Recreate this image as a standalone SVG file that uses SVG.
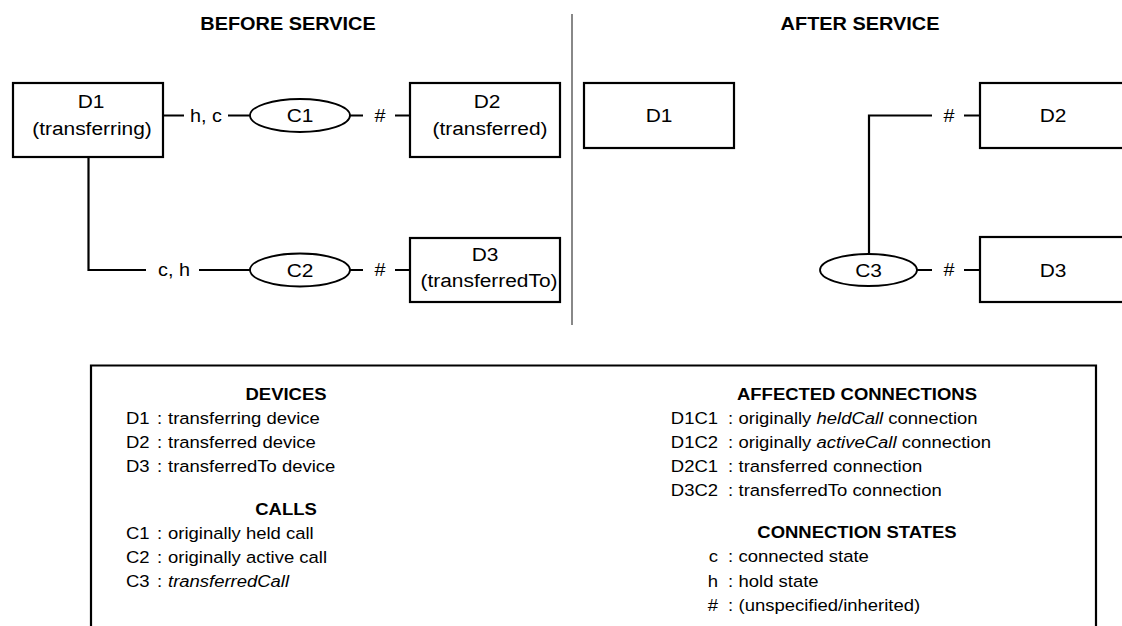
<svg xmlns="http://www.w3.org/2000/svg" width="1122" height="626" viewBox="0 0 1122 626">
<style>
text{font-family:"Liberation Sans",Arial,sans-serif;fill:#000}
.t{font-size:18.6px;font-weight:bold;text-anchor:middle}
.n{font-size:19px;text-anchor:middle}
.l{font-size:18px;text-anchor:middle}
.h{font-size:16.8px;font-weight:bold;text-anchor:middle}
.g{font-size:16.8px}
.e{text-anchor:end}
.box{fill:#fff;stroke:#000;stroke-width:2.2}
.ell{fill:#fff;stroke:#000;stroke-width:1.8}
.ln{fill:none;stroke:#000;stroke-width:2.2}
.sep{stroke:#888;stroke-width:2}
</style>
<rect width="1122" height="626" fill="#fff"/>
<text class="t" transform="translate(288 30) scale(1.07 1)">BEFORE SERVICE</text>
<text class="t" transform="translate(860 30) scale(1.07 1)">AFTER SERVICE</text>
<line class="sep" x1="572" y1="14" x2="572" y2="325"/>
<g id="connectors">
<path class="ln" d="M163 115.5H184M228 115.5H250M350 115.5H363M395 115.5H410"/>
<path class="ln" d="M88.5 157V270H146M199 270H250M350 270H363M395 270H410"/>
<path class="ln" d="M869 254V115.5H932M964 115.5H980"/>
<path class="ln" d="M917 270H932M964 270H980"/>
<text class="l" transform="translate(206 121.5) scale(1.1 1)">h, c</text>
<text class="l" transform="translate(380 121.5) scale(1.1 1)">#</text>
<text class="l" transform="translate(174 276) scale(1.1 1)">c, h</text>
<text class="l" transform="translate(380 276) scale(1.1 1)">#</text>
<text class="l" transform="translate(949 121.5) scale(1.1 1)">#</text>
<text class="l" transform="translate(949 276) scale(1.1 1)">#</text>
</g>
<g id="b-d1"><rect class="box" x="13" y="83" width="150" height="74"/>
<text class="n" transform="translate(91 108) scale(1.1 1)">D1</text>
<text class="n" transform="translate(92 135) scale(1.1 1)">(transferring)</text></g>
<g id="b-c1"><ellipse class="ell" cx="300" cy="115.5" rx="50" ry="16.5"/>
<text class="n" transform="translate(300 122) scale(1.1 1)">C1</text></g>
<g id="b-d2"><rect class="box" x="410" y="83" width="150" height="74"/>
<text class="n" transform="translate(487 108) scale(1.1 1)">D2</text>
<text class="n" transform="translate(490 135) scale(1.1 1)">(transferred)</text></g>
<g id="b-c2"><ellipse class="ell" cx="300" cy="270" rx="50" ry="16.5"/>
<text class="n" transform="translate(300 276.5) scale(1.1 1)">C2</text></g>
<g id="b-d3"><rect class="box" x="410" y="238" width="150" height="64"/>
<text class="n" transform="translate(485 261) scale(1.1 1)">D3</text>
<text class="n" transform="translate(489 287) scale(1.1 1)">(transferredTo)</text></g>
<g id="a-d1"><rect class="box" x="584" y="83" width="150" height="65"/>
<text class="n" transform="translate(659 122) scale(1.1 1)">D1</text></g>
<g id="a-d2"><rect class="box" x="980" y="83" width="150" height="65"/>
<text class="n" transform="translate(1053 122) scale(1.1 1)">D2</text></g>
<g id="a-c3"><ellipse class="ell" cx="868.5" cy="270" rx="48.5" ry="16"/>
<text class="n" transform="translate(868.5 276.5) scale(1.1 1)">C3</text></g>
<g id="a-d3"><rect class="box" x="980" y="237" width="150" height="65"/>
<text class="n" transform="translate(1053 276.5) scale(1.1 1)">D3</text></g>
<g id="legend">
<path class="ln" d="M91 630V365.5H1096V630"/>
<text class="h" transform="translate(286 400) scale(1.1 1)">DEVICES</text>
<text class="g" transform="translate(126 424) scale(1.1 1)">D1</text><text class="g" transform="translate(157 424) scale(1.1 1)">:</text><text class="g" transform="translate(168 424) scale(1.1 1)">transferring device</text>
<text class="g" transform="translate(126 448) scale(1.1 1)">D2</text><text class="g" transform="translate(157 448) scale(1.1 1)">:</text><text class="g" transform="translate(168 448) scale(1.1 1)">transferred device</text>
<text class="g" transform="translate(126 472) scale(1.1 1)">D3</text><text class="g" transform="translate(157 472) scale(1.1 1)">:</text><text class="g" transform="translate(168 472) scale(1.1 1)">transferredTo device</text>
<text class="h" transform="translate(286 515) scale(1.1 1)">CALLS</text>
<text class="g" transform="translate(126 539) scale(1.1 1)">C1</text><text class="g" transform="translate(157 539) scale(1.1 1)">:</text><text class="g" transform="translate(168 539) scale(1.1 1)">originally held call</text>
<text class="g" transform="translate(126 563) scale(1.1 1)">C2</text><text class="g" transform="translate(157 563) scale(1.1 1)">:</text><text class="g" transform="translate(168 563) scale(1.1 1)">originally active call</text>
<text class="g" transform="translate(126 587) scale(1.1 1)">C3</text><text class="g" transform="translate(157 587) scale(1.1 1)">:</text><text class="g" font-style="italic" transform="translate(168 587) scale(1.1 1)">transferredCall</text>
<text class="h" transform="translate(857 400) scale(1.1 1)">AFFECTED CONNECTIONS</text>
<text class="g e" transform="translate(718 424) scale(1.1 1)">D1C1</text><text class="g" transform="translate(728 424) scale(1.1 1)">:</text><text class="g" transform="translate(738.5 424) scale(1.1 1)">originally <tspan font-style="italic">heldCall</tspan> connection</text>
<text class="g e" transform="translate(718 448) scale(1.1 1)">D1C2</text><text class="g" transform="translate(728 448) scale(1.1 1)">:</text><text class="g" transform="translate(738.5 448) scale(1.1 1)">originally <tspan font-style="italic">activeCall</tspan> connection</text>
<text class="g e" transform="translate(718 472) scale(1.1 1)">D2C1</text><text class="g" transform="translate(728 472) scale(1.1 1)">:</text><text class="g" transform="translate(738.5 472) scale(1.1 1)">transferred connection</text>
<text class="g e" transform="translate(718 496) scale(1.1 1)">D3C2</text><text class="g" transform="translate(728 496) scale(1.1 1)">:</text><text class="g" transform="translate(738.5 496) scale(1.1 1)">transferredTo connection</text>
<text class="h" transform="translate(857 538) scale(1.1 1)">CONNECTION STATES</text>
<text class="g e" transform="translate(718 562) scale(1.1 1)">c</text><text class="g" transform="translate(728 562) scale(1.1 1)">:</text><text class="g" transform="translate(738.5 562) scale(1.1 1)">connected state</text>
<text class="g e" transform="translate(718 587) scale(1.1 1)">h</text><text class="g" transform="translate(728 587) scale(1.1 1)">:</text><text class="g" transform="translate(738.5 587) scale(1.1 1)">hold state</text>
<text class="g e" transform="translate(718 611) scale(1.1 1)">#</text><text class="g" transform="translate(728 611) scale(1.1 1)">:</text><text class="g" transform="translate(738.5 611) scale(1.1 1)">(unspecified/inherited)</text>
</g>
</svg>
